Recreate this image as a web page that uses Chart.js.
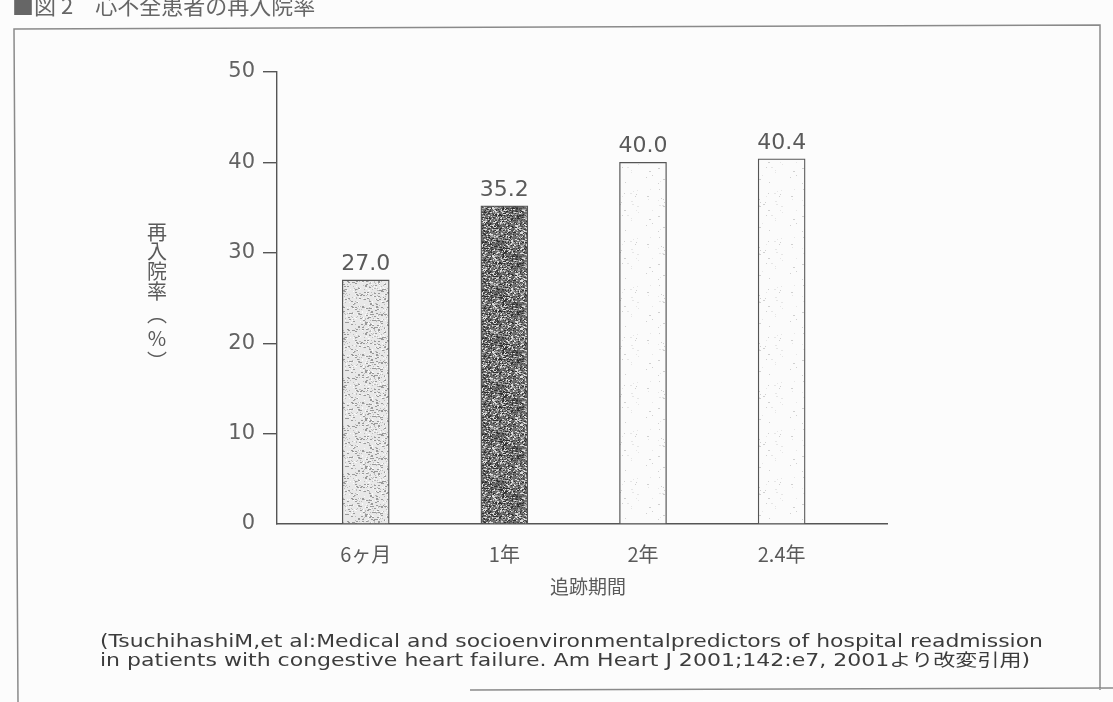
<!DOCTYPE html>
<html>
<head>
<meta charset="utf-8">
<script src="https://cdn.jsdelivr.net/npm/chart.js@4.4.1/dist/chart.umd.min.js"></script>
<style>
  html, body { margin: 0; padding: 0; background: #fcfcfc; }
  #chart { display: block; }
</style>
</head>
<body>
<canvas id="chart" width="1113" height="702"></canvas>
<script>
// data
const categories = ['6ヶ月', '1年', '2年', '2.4年'];
const readmissionRates = [27.0, 35.2, 40.0, 40.4];
const yTickValues = [0, 10, 20, 30, 40, 50];

const figureTitle = '■図 2　心不全患者の再入院率';
const yTitleChars = ['再', '入', '院', '率', '︵', '%', '︶'];
const xTitle = '追跡期間';
const sourceLines = [
  '(TsuchihashiM,et al:Medical and socioenvironmentalpredictors of hospital readmission',
  'in patients with congestive heart failure. Am Heart J 2001;142:e7, 2001より改変引用)'
];

const INK = '#5a5a5a';
const JP = '"Noto Sans CJK JP", "Noto Sans", sans-serif';
const NUM = '"DejaVu Sans", "Noto Sans CJK JP", sans-serif';

// speckled screen-tone fills, like the printed original
function stipple(base, dots, count, seed) {
  const c = document.createElement('canvas');
  c.width = 48; c.height = 48;
  const g = c.getContext('2d');
  g.fillStyle = base;
  g.fillRect(0, 0, 48, 48);
  let s = seed;
  const next = () => (s = (s * 16807) % 2147483647) / 2147483647;
  for (let i = 0; i < count; i++) {
    g.fillStyle = dots[i % dots.length];
    g.fillRect(Math.floor(next() * 48), Math.floor(next() * 48), 1 + (i % 3 === 0 ? 1 : 0), 1);
  }
  return g.createPattern(c, 'repeat');
}

const lightTone = stipple('#e8e8e8', ['#9a9a9a', '#bdbdbd', '#fafafa'], 480, 7);
const darkTone = stipple('#6e6e6e', ['#2e2e2e', '#4a4a4a', '#a8a8a8', '#dcdcdc'], 1500, 11);
const blankTone = stipple('#fbfbfb', ['#d0d0d0', '#e6e6e6'], 40, 3);

const overlay = {
  id: 'overlay',
  afterDatasetsDraw(chart) {
    const ctx = chart.ctx;
    ctx.save();

    // frame of the figure
    ctx.strokeStyle = '#8a8a8a';
    ctx.lineWidth = 1.5;
    ctx.beginPath();
    ctx.moveTo(18, 702);
    ctx.lineTo(14, 29);
    ctx.lineTo(1100, 25);
    ctx.lineTo(1100, 690);
    ctx.moveTo(470, 690);
    ctx.lineTo(1113, 688);
    ctx.stroke();

    // figure title (clipped by the top edge)
    ctx.fillStyle = '#666';
    ctx.font = '22px ' + JP;
    ctx.textBaseline = 'middle';
    ctx.textAlign = 'left';
    ctx.fillText(figureTitle, 12, 6);

    // vertical y title, upright characters
    ctx.fillStyle = INK;
    ctx.font = '20px ' + JP;
    ctx.textAlign = 'center';
    const yPos = [232, 251, 271, 291, 314, 338, 361];
    yTitleChars.forEach((ch, i) => ctx.fillText(ch, 157, yPos[i]));

    // x title
    ctx.font = '19px ' + JP;
    ctx.fillText(xTitle, 588, 587);

    // value labels above bars
    ctx.font = '22px ' + NUM;
    ctx.textBaseline = 'bottom';
    const meta = chart.getDatasetMeta(0);
    meta.data.forEach((bar, i) => {
      ctx.fillText(readmissionRates[i].toFixed(1), bar.x, bar.y - 5);
    });

    // source note, fitted to the printed line width
    ctx.font = '17px ' + NUM;
    ctx.textAlign = 'left';
    ctx.textBaseline = 'middle';
    ctx.fillStyle = '#3c3c3c';
    const widths = [943, 930];
    const ys = [643, 662];
    sourceLines.forEach((line, i) => {
      const w = ctx.measureText(line).width;
      ctx.save();
      ctx.translate(100, ys[i]);
      ctx.scale(widths[i] / w, 1);
      ctx.fillText(line, 0, 0);
      ctx.restore();
    });

    ctx.restore();
  }
};

new Chart(document.getElementById('chart').getContext('2d'), {
  type: 'bar',
  data: {
    datasets: [{
      data: readmissionRates.map((v, i) => ({ x: i + 1, y: v })),
      backgroundColor: [lightTone, darkTone, blankTone, blankTone],
      borderColor: '#555',
      borderWidth: 1.3,
      barThickness: 47
    }]
  },
  options: {
    responsive: false,
    animation: false,
    devicePixelRatio: 1,
    layout: { padding: { left: 217, right: 226, top: 72, bottom: 128 } },
    plugins: {
      legend: { display: false },
      tooltip: { enabled: false }
    },
    scales: {
      x: {
        type: 'linear',
        min: 0.36,
        max: 4.76,
        offset: false,
        afterBuildTicks: scale => { scale.ticks = categories.map((c, i) => ({ value: i + 1 })); },
        afterFit: scale => { scale.height = 50; },
        grid: { display: false },
        border: { display: true, color: '#555', width: 1.4 },
        ticks: {
          autoSkip: false,
          maxRotation: 0,
          padding: 10,
          color: INK,
          font: { family: JP, size: 20 },
          callback: v => categories[v - 1]
        }
      },
      y: {
        min: 0,
        max: 50,
        afterBuildTicks: scale => { scale.ticks = yTickValues.map(v => ({ value: v })); },
        afterFit: scale => { scale.width = 60; },
        grid: {
          drawOnChartArea: false,
          drawTicks: true,
          tickLength: 14,
          lineWidth: 1.4,
          color: c => (c.tick && c.tick.value === 0 ? 'rgba(0,0,0,0)' : '#555')
        },
        border: { display: true, color: '#555', width: 1.4 },
        ticks: {
          padding: 8,
          color: '#626262',
          font: { family: NUM, size: 21 }
        }
      }
    }
  },
  plugins: [overlay]
});
</script>
</body>
</html>
